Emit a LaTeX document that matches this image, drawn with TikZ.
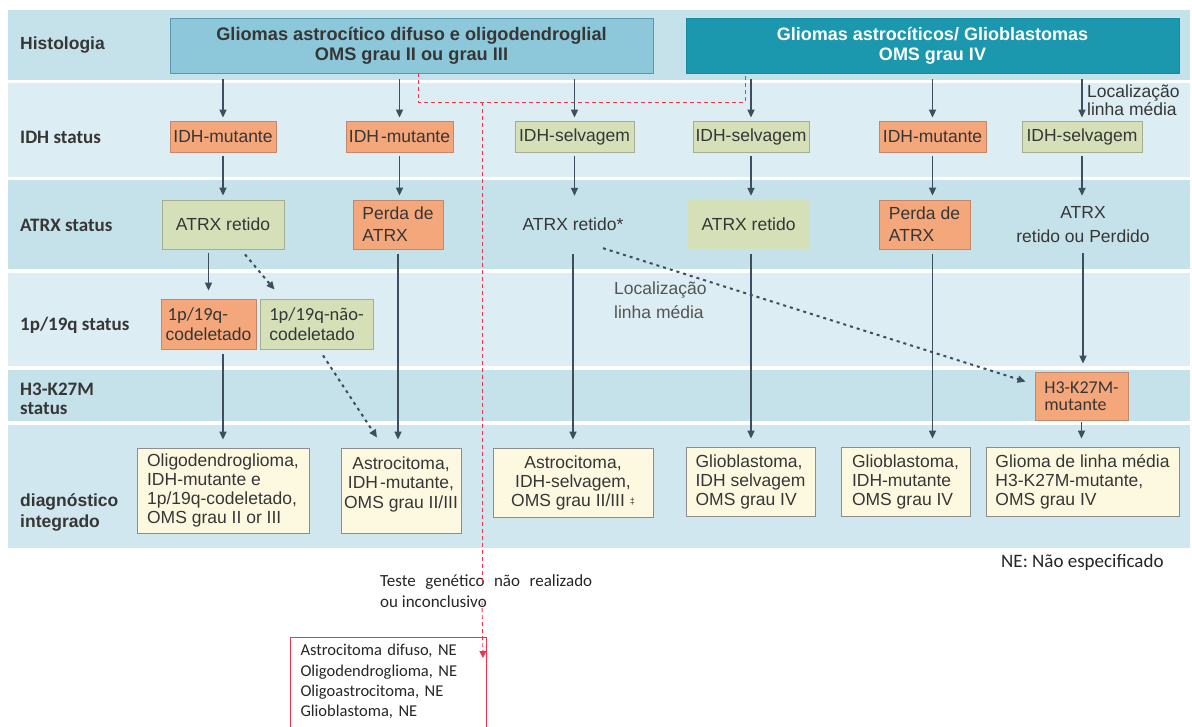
\documentclass[tikz,border=0pt]{standalone}
\usepackage{fontspec}
\setmainfont{Liberation Sans}
\newfontfamily\carl{Carlito}
\usetikzlibrary{arrows.meta,calc}
\definecolor{bandM}{HTML}{C5E2EB}
\definecolor{bandL}{HTML}{DCEDF3}
\definecolor{bandD}{HTML}{D0E7EF}
\definecolor{topLf}{HTML}{8DC8DA}
\definecolor{topLd}{HTML}{5A98B0}
\definecolor{topRf}{HTML}{1B98AD}
\definecolor{topRd}{HTML}{178A9E}
\definecolor{orF}{HTML}{F5A77C}
\definecolor{orD}{HTML}{C4876A}
\definecolor{grF}{HTML}{D5E0B8}
\definecolor{grD}{HTML}{A5AE92}
\definecolor{crF}{HTML}{FDF9E1}
\definecolor{crD}{HTML}{8D8D8D}
\definecolor{arrc}{HTML}{3E4E5E}
\definecolor{redc}{HTML}{E53950}
\definecolor{txt}{HTML}{363636}
\tikzset{
  box/.style={rectangle, inner sep=2pt, text=txt, align=center, font=\fontsize{17.5}{19}\selectfont},
  orbox/.style={box, fill=orF, draw=orD, line width=0.8pt},
  grbox/.style={box, fill=grF, draw=grD, line width=0.8pt},
  grplain/.style={box, fill=grF},
  crbox/.style={box, fill=crF, draw=crD, line width=0.8pt},
  rowlab/.style={anchor=west, align=left, text=txt, inner sep=0pt},
  arr/.style={draw=arrc, line width=1.6pt, -{Triangle[length=8pt,width=7pt]}},
  dotarr/.style={draw=arrc, line width=2pt, dash pattern=on 3pt off 4pt, -{Triangle[length=8pt,width=7pt]}},
  reddash/.style={draw=redc, line width=0.9pt, dash pattern=on 4pt off 3pt},
}
\begin{document}
\begin{tikzpicture}[x=1pt,y=-1pt]
\useasboundingbox (0,0) rectangle (1192,727);
\clip (0,0) rectangle (1192,727);
\fill[white] (0,0) rectangle (1192,727);
% bands
\fill[bandM] (8,10) rectangle (1190,80);
\fill[bandL] (8,83) rectangle (1190,177);
\fill[bandM] (8,180) rectangle (1190,269);
\fill[bandL] (8,273) rectangle (1190,366);
\fill[bandM] (8,370) rectangle (1190,421);
\fill[bandD] (8,425) rectangle (1190,548);

% row labels
\node[rowlab, font=\bfseries\fontsize{17.5}{19}\selectfont] (lhist) at (20,45) {Histologia};
\node[rowlab, font=\carl\bfseries\fontsize{19}{19}\selectfont] (lidh) at (20,137) {IDH status};
\node[rowlab, font=\carl\bfseries\fontsize{19}{19}\selectfont] (latrx) at (20,225) {ATRX status};
\node[rowlab, font=\carl\bfseries\fontsize{19}{19}\selectfont] (lp) at (20,325) {1p/19q status};
\node[rowlab, font=\carl\bfseries\fontsize{19}{19}\selectfont] (lh3) at (20,399) {H3-K27M\\status};
\node[rowlab, font=\bfseries\fontsize{17.5}{21}\selectfont] (ldiag) at (20,512) {diagnóstico\\integrado};

% top boxes
\node[box, fill=topLf, draw=topLd, line width=0.8pt, minimum width=483, minimum height=55,
      font=\bfseries\fontsize{18.2}{20}\selectfont] (histL) at (411.5,45.5)
      {Gliomas astrocítico difuso e oligodendroglial\\OMS grau II ou grau III};
\node[box, fill=topRf, draw=topRd, line width=0.8pt, minimum width=493, minimum height=55,
      text=white, font=\bfseries\fontsize{18}{20}\selectfont] (histR) at (932.5,45.5)
      {Gliomas astrocíticos/ Glioblastomas\\OMS grau IV};

% IDH row
\node[orbox, minimum width=106, minimum height=31] (i1) at (223,136.5) {IDH-mutante};
\node[orbox, minimum width=107, minimum height=31] (i2) at (399.5,136.5) {IDH\hspace{2pt}-mutante};
\node[grbox, minimum width=119, minimum height=31] (i3) at (574.5,136.5) {IDH-selvagem};
\node[grbox, minimum width=116, minimum height=31] (i4) at (751,136.5) {IDH-selvagem};
\node[orbox, minimum width=107, minimum height=31] (i5) at (932.5,136.5) {IDH-mutante};
\node[grbox, minimum width=120, minimum height=31] (i6) at (1082,136.5) {IDH-selvagem};

% ATRX row
\node[grbox, minimum width=122, minimum height=49] (a1) at (223,224.5) {ATRX retido};
\node[orbox, minimum width=90, minimum height=49, align=left, font=\fontsize{17.5}{22}\selectfont] (a2) at (398,224.5) {Perda de\\ATRX};
\node[box, minimum height=49] (a3) at (573,224.5) {ATRX retido*};
\node[grplain, minimum width=121, minimum height=49] (a4) at (748.5,224.5) {ATRX retido};
\node[orbox, minimum width=91, minimum height=49, align=left, font=\fontsize{17.5}{22}\selectfont] (a5) at (924.5,224.5) {Perda de\\ATRX};
\node[box, minimum height=49, font=\fontsize{17.5}{24}\selectfont] (a6) at (1083,224.5) {ATRX\\retido ou Perdido};

% 1p/19q row
\node[orbox, minimum width=95, minimum height=50, align=left, inner sep=1pt, font=\fontsize{17.5}{20}\selectfont] (p1) at (208.5,324) {{\carl\fontsize{18.5}{20}\selectfont\hspace{2pt}1p/19q-}\\codeletado};
\node[grbox, minimum width=113, minimum height=50, align=left, inner sep=1pt, font=\fontsize{17.5}{20}\selectfont] (p2) at (316.5,324) {{\carl\fontsize{18.5}{20}\selectfont 1p/19q-não-}\\codeletado};

% H3 row
\node[orbox, minimum width=93, minimum height=48, align=left, font=\carl\fontsize{18}{17}\selectfont] (h3) at (1081.5,396) {H3-K27M-\\mutante};

% diagnosis row
\node[crbox, minimum width=172, minimum height=85, align=left] (d1) at (223,490.5)
  {Oligodendroglioma,\\IDH-mutante e\\1p/19q-codeletado,\\OMS grau II or III};
\node[crbox, minimum width=120, minimum height=85, font=\fontsize{17.5}{19.5}\selectfont] (d2) at (401,490.5)
  {Astrocitoma,\\IDH\hspace{2pt}-mutante,\\OMS grau II/III\\[-3pt]};
\node[crbox, minimum width=160, minimum height=69] (d3) at (573,482.5)
  {Astrocitoma,\\IDH-selvagem,\\OMS grau II/III {\fontsize{9}{9}\selectfont\raisebox{2pt}{‡}}};
\node[crbox, minimum width=129, minimum height=69, align=left] (d4) at (750.5,481.5)
  {Glioblastoma,\\IDH selvagem\\OMS grau IV};
\node[crbox, minimum width=129, minimum height=69, align=left] (d5) at (905.5,481.5)
  {Glioblastoma,\\IDH-mutante\\OMS grau IV};
\node[crbox, minimum width=193, minimum height=69, align=left] (d6) at (1082.5,481.5)
  {Glioma de linha média\\H3-K27M-mutante,\\OMS grau IV};

% free labels
\node[anchor=west, align=left, text=txt, inner sep=0pt, font=\fontsize{17.5}{16}\selectfont] (lmtop) at (1087,100) {Localização\\linha média};
\node[anchor=west, align=left, text=txt!85, inner sep=0pt, font=\fontsize{17.5}{24}\selectfont] (lmmid) at (614,300) {Localização\\linha média};
\node[anchor=west, text=black!85, inner sep=0pt, font=\carl\fontsize{19}{19}\selectfont] (nelab) at (1001,562) {NE: Não especificado};

% red box and text
\node[draw=redc, line width=1pt, anchor=north west, align=left, text=black!85,
      inner xsep=9pt, inner ysep=7pt, minimum width=196, text width=176pt,
      font=\carl\fontsize{16.5}{20.3}\selectfont] (ne) at (290,637)
  {Astrocitoma difuso, NE\\Oligodendroglioma, NE\\Oligoastrocitoma, NE\\Glioblastoma, NE\\[10pt]\mbox{}};
\node[anchor=west, align=left, text=black!85, inner sep=0pt, font=\carl\fontsize{17}{21}\selectfont] (teste) at (380,591.5)
  {\makebox[212pt][s]{Teste genético não realizado}\\ou inconclusivo};

% red dashed path
\coordinate (r1) at (418,102);
\coordinate (r2) at (745,102);
\coordinate (rj) at (482,102);
\draw[reddash] (histL.south -| r1) -- (r1) -- (r2) -- (histR.south -| r2);
\draw[reddash] (rj) -- ([yshift=-6pt]rj |- teste.north);
\draw[reddash, -{Triangle[length=7pt,width=7pt]}] ([yshift=7pt]rj |- teste.south) -- ($(ne.north east)+(-4,21)$);

% top arrows
\foreach \n/\src in {i1/histL,i2/histL,i3/histL,i4/histR,i5/histR,i6/histR}{
  \draw[arr, shorten <=6pt, shorten >=3pt] (\src.south -| \n) -- (\n.north);
}
% IDH -> ATRX
\foreach \n/\m in {i1/a1,i2/a2,i3/a3,i4/a4,i5/a5,i6/a6}{
  \draw[arr, shorten <=4pt, shorten >=4pt] (\n.south) -- (\m.north -| \n);
}
% ATRX -> 1p/19q
\draw[arr, shorten <=4pt, shorten >=8pt] (a1.south -| p1) -- (p1.north);
\draw[dotarr] ($(a1.south)+(22,5)$) -- ($(p2.north)+(-42,-9)$);
% to diagnosis
\draw[arr, shorten <=5pt, shorten >=8pt] (p1.south -| d1) -- (d1.north);
\draw[dotarr] ($(p2.south)+(6.5,6)$) -- ($(d2.north)+(-24,-10)$);
\draw[arr, shorten <=5pt, shorten >=8pt] (a2.south) -- (d2.north -| a2);
\draw[arr, shorten <=5pt, shorten >=8pt] (a3.south) -- (d3.north -| a3);
\draw[arr, shorten <=5pt, shorten >=8pt] (a4.south -| i4) -- (d4.north -| i4);
\draw[arr, shorten <=5pt, shorten >=8pt] (a5.south -| i5) -- (d5.north -| i5);
\draw[arr, shorten <=4pt, shorten >=8pt] (a6.south) -- (h3.north -| a6);
\draw[arr, shorten <=2pt, shorten >=8pt] (h3.south) -- (d6.north -| h3);
\draw[dotarr] ($(a3.south)+(30,-1)$) -- ($(h3.north west)+(-9,10)$);
\end{tikzpicture}
\end{document}
